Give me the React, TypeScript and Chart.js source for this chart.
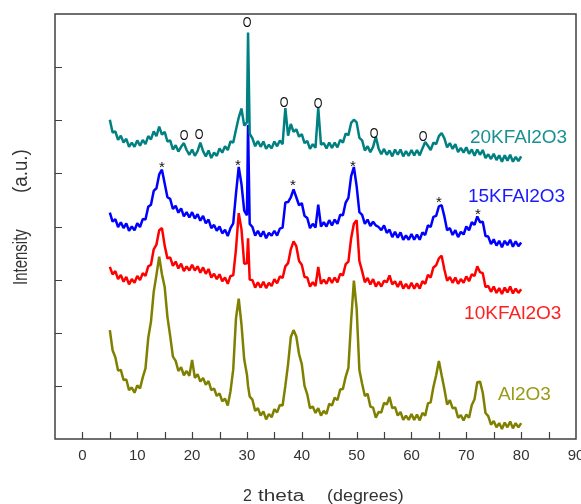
import React, { useEffect, useRef } from 'react';
import { Chart, registerables } from 'chart.js';

Chart.register(...registerables);

// 2-theta positions (degrees)
const THETA: number[] = [
  5, 5.5, 6, 6.5, 7, 7.5, 8, 8.5, 9, 9.5,
  10, 10.5, 11, 11.5, 12, 12.5, 13, 13.5, 14, 14.5,
  15, 15.5, 16, 16.5, 17, 17.5, 18, 18.5, 19, 19.5,
  20, 20.5, 21, 21.5, 22, 22.5, 23, 23.5, 24, 24.5,
  25, 25.5, 26, 26.5, 27, 27.5, 28, 28.5, 29, 29.5,
  30, 30.2, 30.5, 31, 31.5, 32, 32.5, 33, 33.5, 34, 34.5,
  35, 35.5, 36, 36.5, 37, 37.5, 38, 38.5, 39, 39.5,
  40, 40.5, 41, 41.5, 42, 42.5, 43, 43.5, 44, 44.5,
  45, 45.5, 46, 46.5, 47, 47.5, 48, 48.5, 49, 49.5,
  50, 50.5, 51, 51.5, 52, 52.5, 53, 53.5, 54, 54.5,
  55, 55.5, 56, 56.5, 57, 57.5, 58, 58.5, 59, 59.5,
  60, 60.5, 61, 61.5, 62, 62.5, 63, 63.5, 64, 64.5,
  65, 65.5, 66, 66.5, 67, 67.5, 68, 68.5, 69, 69.5,
  70, 70.5, 71, 71.5, 72, 72.5, 73, 73.5, 74, 74.5,
  75, 75.5, 76, 76.5, 77, 77.5, 78, 78.5, 79, 79.5,
  80,
];

// Intensity (a.u., offset traces)
const KF20: number[] = [
  6.01, 5.77, 5.79, 5.63, 5.71, 5.58, 5.65, 5.50, 5.58, 5.50,
  5.62, 5.52, 5.63, 5.55, 5.70, 5.64, 5.79, 5.70, 5.88, 5.73,
  5.78, 5.60, 5.62, 5.45, 5.53, 5.41, 5.50, 5.57, 5.44, 5.35,
  5.45, 5.33, 5.42, 5.58, 5.42, 5.32, 5.43, 5.29, 5.39, 5.33,
  5.47, 5.39, 5.51, 5.44, 5.60, 5.58, 5.82, 6.05, 6.22, 5.90,
  5.96, 7.65, 5.75, 5.66, 5.51, 5.61, 5.50, 5.60, 5.46, 5.54, 5.47,
  5.60, 5.51, 5.62, 5.55, 6.23, 5.71, 5.93, 5.78, 5.83, 5.69,
  5.74, 5.57, 5.61, 5.46, 5.55, 5.48, 6.23, 5.54, 5.57, 5.47,
  5.58, 5.48, 5.58, 5.49, 5.63, 5.58, 5.75, 5.72, 5.95, 6.01,
  5.96, 5.67, 5.62, 5.43, 5.51, 5.40, 5.50, 5.69, 5.47, 5.36,
  5.46, 5.35, 5.43, 5.32, 5.45, 5.35, 5.45, 5.32, 5.42, 5.33,
  5.44, 5.34, 5.44, 5.34, 5.47, 5.59, 5.52, 5.44, 5.58, 5.55,
  5.70, 5.76, 5.66, 5.49, 5.57, 5.46, 5.55, 5.40, 5.48, 5.39,
  5.49, 5.37, 5.45, 5.33, 5.45, 5.35, 5.44, 5.29, 5.36, 5.27,
  5.37, 5.25, 5.34, 5.22, 5.34, 5.24, 5.35, 5.22, 5.31, 5.23,
  5.32,
];

const KF15: number[] = [
  4.26, 4.09, 4.14, 3.99, 4.08, 3.97, 4.06, 3.92, 4.00, 3.93,
  4.06, 3.99, 4.14, 4.13, 4.37, 4.41, 4.67, 4.72, 4.98, 5.07,
  4.81, 4.55, 4.52, 4.33, 4.39, 4.26, 4.34, 4.19, 4.27, 4.17,
  4.27, 4.15, 4.23, 4.11, 4.20, 4.06, 4.13, 3.97, 4.03, 3.92,
  4.00, 3.87, 3.94, 3.82, 3.97, 4.06, 4.62, 5.12, 4.80, 4.30,
  4.21, 5.91, 4.05, 3.99, 3.83, 3.92, 3.81, 3.91, 3.78, 3.88, 3.83,
  3.92, 3.83, 3.96, 3.98, 4.45, 4.46, 4.55, 4.70, 4.55, 4.40,
  4.44, 4.20, 4.16, 3.97, 4.05, 3.98, 4.41, 4.00, 4.08, 4.00,
  4.12, 4.02, 4.13, 4.05, 4.22, 4.21, 4.45, 4.54, 4.95, 5.12,
  4.76, 4.27, 4.22, 4.05, 4.13, 4.01, 4.09, 4.02, 3.99, 3.93,
  4.02, 3.88, 3.94, 3.80, 3.90, 3.79, 3.89, 3.75, 3.83, 3.75,
  3.86, 3.75, 3.85, 3.75, 3.89, 3.84, 4.02, 3.99, 4.18, 4.20,
  4.38, 4.40, 4.19, 3.93, 3.97, 3.84, 3.93, 3.80, 3.90, 3.85,
  4.00, 3.93, 4.08, 4.03, 4.19, 4.08, 4.09, 3.82, 3.81, 3.67,
  3.76, 3.64, 3.73, 3.61, 3.73, 3.65, 3.75, 3.62, 3.72, 3.63,
  3.70,
];

const KF10: number[] = [
  3.24, 3.10, 3.16, 3.01, 3.09, 2.96, 3.05, 2.91, 3.01, 2.94,
  3.07, 2.99, 3.12, 3.07, 3.25, 3.28, 3.57, 3.66, 3.93, 3.97,
  3.64, 3.40, 3.42, 3.26, 3.34, 3.21, 3.30, 3.16, 3.25, 3.17,
  3.28, 3.17, 3.25, 3.13, 3.23, 3.11, 3.20, 3.04, 3.11, 3.01,
  3.10, 2.97, 3.04, 2.92, 3.07, 3.08, 3.57, 4.25, 3.95, 3.30,
  3.31, 3.78, 3.00, 2.99, 2.85, 2.95, 2.85, 2.96, 2.84, 2.94, 2.88,
  3.01, 2.93, 3.06, 3.03, 3.25, 3.31, 3.57, 3.72, 3.63, 3.35,
  3.28, 3.05, 3.04, 2.87, 2.95, 2.88, 3.24, 2.92, 3.00, 2.92,
  3.04, 2.94, 3.04, 2.95, 3.11, 3.08, 3.29, 3.34, 3.78, 4.05,
  4.12, 3.35, 3.16, 2.95, 3.03, 2.91, 3.01, 2.87, 2.96, 2.87,
  2.98, 2.95, 3.08, 2.91, 2.97, 2.86, 2.97, 2.83, 2.92, 2.83,
  2.94, 2.83, 2.93, 2.83, 2.97, 2.92, 3.09, 3.04, 3.23, 3.27,
  3.40, 3.45, 3.19, 2.98, 3.05, 2.94, 3.04, 2.92, 3.01, 2.94,
  3.06, 2.97, 3.10, 3.07, 3.25, 3.14, 3.12, 2.86, 2.88, 2.77,
  2.87, 2.75, 2.84, 2.73, 2.85, 2.76, 2.87, 2.74, 2.83, 2.75,
  2.82,
];

const AL2O3: number[] = [
  2.05, 1.67, 1.54, 1.29, 1.30, 1.11, 1.12, 0.92, 0.97, 0.87,
  1.01, 0.95, 1.16, 1.33, 1.90, 2.21, 2.77, 3.09, 3.43, 3.10,
  2.86, 2.30, 1.94, 1.55, 1.47, 1.28, 1.35, 1.20, 1.28, 1.19,
  1.49, 1.15, 1.22, 1.08, 1.15, 1.02, 1.09, 0.92, 0.95, 0.81,
  0.86, 0.71, 0.76, 0.63, 0.90, 1.31, 2.27, 2.64, 2.16, 1.50,
  1.21, 1.00, 0.80, 0.74, 0.53, 0.58, 0.44, 0.52, 0.37, 0.47, 0.41,
  0.56, 0.50, 0.64, 0.63, 1.00, 1.41, 1.92, 2.05, 1.93, 1.60,
  1.41, 1.00, 0.84, 0.58, 0.61, 0.49, 0.58, 0.44, 0.53, 0.47,
  0.66, 0.63, 0.78, 0.73, 0.93, 0.94, 1.17, 1.34, 2.23, 2.98,
  2.46, 1.30, 1.04, 0.81, 0.85, 0.61, 0.59, 0.40, 0.51, 0.50,
  0.68, 0.65, 0.79, 0.58, 0.60, 0.44, 0.51, 0.36, 0.44, 0.36,
  0.47, 0.36, 0.46, 0.35, 0.49, 0.44, 0.67, 0.69, 0.98, 1.20,
  1.47, 1.20, 0.94, 0.65, 0.73, 0.58, 0.59, 0.40, 0.45, 0.35,
  0.46, 0.40, 0.64, 0.75, 1.07, 1.08, 0.87, 0.49, 0.43, 0.27,
  0.34, 0.22, 0.30, 0.19, 0.31, 0.22, 0.33, 0.20, 0.30, 0.22,
  0.30,
];

const SERIES_NAMES = ['20KFAl2O3', '15KFAl2O3', '10KFAl2O3', 'Al2O3'];
const SERIES_VALUES = [KF20, KF15, KF10, AL2O3];
const SERIES_COLORS = ['#008080', '#0000ff', '#ff0000', '#808000'];
const LABEL_COLORS = ['#1a9090', '#1a1aff', '#ff2020', '#9a9a1a'];
const LABEL_X = [70.67, 70.3, 69.6, 75.8];
const LABEL_Y = [5.57, 4.46, 2.26, 0.73];

const X_TICK_LABELS = [0, 10, 20, 30, 40, 50, 60, 70, 80, 90];
const X_MINOR_TICKS = [0, 5, 10, 15, 20, 25, 30, 35, 40, 45, 50, 55, 60, 65, 70, 75, 80, 85];
const Y_TICKS = [1, 2, 3, 4, 5, 6, 7];

// phase markers: "O" and "*"
const CIRCLE_X = [30.01, 18.52, 21.26, 36.76, 42.96, 53.17, 62.1];
const CIRCLE_Y = [7.85, 5.72, 5.74, 6.34, 6.32, 5.76, 5.7];
const STAR_X = [14.51, 28.37, 38.4, 49.34, 65.02, 72.13];
const STAR_Y = [5.18, 5.21, 4.84, 5.2, 4.52, 4.29];

const FONT = '"Liberation Sans", Arial, sans-serif';

const decor = {
  id: 'decor',
  afterDatasetsDraw(chart: any) {
    const { ctx, chartArea: a, scales } = chart;
    const xs = scales.x;
    const ys = scales.y;
    ctx.save();

    // markers
    ctx.fillStyle = '#111';
    ctx.textAlign = 'center';
    ctx.textBaseline = 'alphabetic';
    ctx.font = `14px ${FONT}`;
    CIRCLE_X.forEach((cx: number, i: number) => {
      const px = xs.getPixelForValue(cx);
      const py = ys.getPixelForValue(CIRCLE_Y[i]);
      ctx.save();
      ctx.translate(px, py + 5);
      ctx.scale(0.8, 1);
      ctx.fillText('O', 0, 0);
      ctx.restore();
    });
    ctx.font = `15px ${FONT}`;
    STAR_X.forEach((sx: number, i: number) => {
      const px = xs.getPixelForValue(sx);
      const py = ys.getPixelForValue(STAR_Y[i]);
      ctx.fillText('*', px, py + 8);
    });

    // series labels
    ctx.font = `19px ${FONT}`;
    ctx.textAlign = 'left';
    SERIES_NAMES.forEach((name: string, i: number) => {
      ctx.fillStyle = LABEL_COLORS[i];
      ctx.fillText(name, xs.getPixelForValue(LABEL_X[i]), ys.getPixelForValue(LABEL_Y[i]));
    });

    // frame
    ctx.strokeStyle = '#404040';
    ctx.lineWidth = 1.5;
    ctx.strokeRect(a.left, a.top, a.right - a.left, a.bottom - a.top);

    // inward ticks
    ctx.lineWidth = 1.2;
    ctx.beginPath();
    X_MINOR_TICKS.forEach((v: number) => {
      const px = Math.round(xs.getPixelForValue(v)) + 0.5;
      ctx.moveTo(px, a.bottom);
      ctx.lineTo(px, a.bottom - 7);
    });
    Y_TICKS.forEach((v: number) => {
      const py = Math.round(ys.getPixelForValue(v)) + 0.5;
      ctx.moveTo(a.left, py);
      ctx.lineTo(a.left + 7, py);
    });
    ctx.stroke();

    // tick labels
    ctx.fillStyle = '#333';
    ctx.font = `15px ${FONT}`;
    ctx.textAlign = 'center';
    X_TICK_LABELS.forEach((v: number) => {
      ctx.fillText(String(v), xs.getPixelForValue(v), a.bottom + 21);
    });

    // x title
    ctx.font = `16px ${FONT}`;
    ctx.textAlign = 'left';
    ctx.fillText('2', 243, 501);
    ctx.save();
    ctx.translate(258, 501);
    ctx.scale(1.3, 1);
    ctx.fillText('theta', 0, 0);
    ctx.restore();
    ctx.save();
    ctx.translate(327, 501);
    ctx.scale(1.12, 1);
    ctx.fillText('(degrees)', 0, 0);
    ctx.restore();

    // y title
    ctx.font = `15px ${FONT}`;
    ctx.save();
    ctx.translate(27, 285);
    ctx.rotate(-Math.PI / 2);
    ctx.scale(1, 1.3);
    ctx.fillText('Intensity', 0, 0);
    ctx.restore();
    ctx.save();
    ctx.translate(27, 193);
    ctx.rotate(-Math.PI / 2);
    ctx.scale(1.25, 1.3);
    ctx.fillText('(a.u.)', 0, 0);
    ctx.restore();

    ctx.restore();
  },
};

export default function App() {
  const ref = useRef<HTMLCanvasElement>(null);

  useEffect(() => {
    const canvas = ref.current;
    if (!canvas) return;
    const datasets = SERIES_NAMES.map((name, s) => ({
      label: name,
      data: THETA.map((t, i) => ({ x: t, y: SERIES_VALUES[s][i] })),
      borderColor: SERIES_COLORS[s],
      backgroundColor: SERIES_COLORS[s],
      borderWidth: 2.5,
      borderJoinStyle: 'bevel',
      pointRadius: 0,
      tension: 0,
      fill: false,
    }));
    const chart = new Chart(canvas, {
      type: 'line',
      data: { datasets },
      options: {
        animation: false,
        responsive: false,
        devicePixelRatio: 1,
        layout: { padding: { left: 55, right: 5, top: 14, bottom: 65 } },
        scales: {
          x: { type: 'linear', min: -5, max: 90, display: false },
          y: { type: 'linear', min: 0, max: 8, display: false },
        },
        plugins: { legend: { display: false }, tooltip: { enabled: false } },
      },
      plugins: [decor],
    } as any);
    return () => chart.destroy();
  }, []);

  return (
    <div style={{ position: 'fixed', left: 0, top: 0, width: 581, height: 504, background: '#fff' }}>
      <canvas ref={ref} width={581} height={504} style={{ display: 'block', width: 581, height: 504 }} />
    </div>
  );
}
